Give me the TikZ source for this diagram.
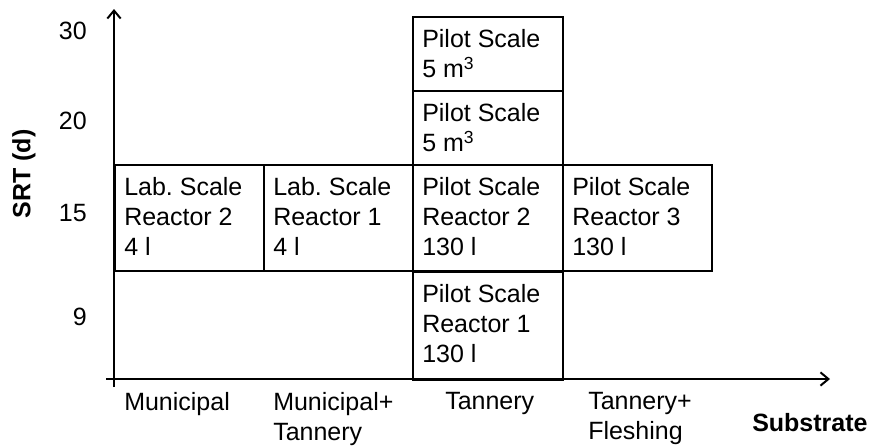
\documentclass[tikz,border=0pt]{standalone}
\usepackage{fontspec}
\setmainfont{Liberation Sans}
\usetikzlibrary{arrows.meta}
\frenchspacing
\begin{document}
\begin{tikzpicture}[x=0.75pt,y=-0.75pt,
  txt/.style={font=\fontsize{18.75}{22.5}\selectfont, inner sep=0pt},
  boxtxt/.style={txt, align=left, anchor=north west},
  cell/.style={draw, line width=1.3pt, inner sep=0pt, anchor=north west},
  axis/.style={line width=1.8pt, -{Straight Barb[length=6pt,width=10pt,line width=1.5pt]}},
  tick/.style={txt, anchor=east},
  xlab/.style={txt, align=left, anchor=north west}]
\useasboundingbox (0,0) rectangle (869,447);
% cells
\node[cell, minimum width=150*0.75pt, minimum height=74*0.75pt] (p5a) at (412,16) {};
\node[cell, minimum width=150*0.75pt, minimum height=74*0.75pt] (p5b) at (412,90) {};
\node[cell, minimum width=149*0.75pt, minimum height=106*0.75pt] (lab2) at (114,164) {};
\node[cell, minimum width=149*0.75pt, minimum height=106*0.75pt] (lab1) at (263,164) {};
\node[cell, minimum width=150*0.75pt, minimum height=106*0.75pt] (pr2) at (412,164) {};
\node[cell, minimum width=149*0.75pt, minimum height=106*0.75pt] (pr3) at (562,164) {};
\node[cell, minimum width=150*0.75pt, minimum height=108*0.75pt] (pr1) at (412,271) {};
% cell texts
\node[boxtxt] (t5a) at ([shift={(10,13)}]p5a.north west) {Pilot Scale\\5 m\textsuperscript{3}};
\node[boxtxt] (t5b) at ([shift={(10,13)}]p5b.north west) {Pilot Scale\\5 m\textsuperscript{3}};
\node[boxtxt] (tl2) at ([shift={(10,13)}]lab2.north west) {Lab. Scale\\Reactor 2\\4 l};
\node[boxtxt] (tl1) at ([shift={(10,13)}]lab1.north west) {Lab. Scale\\Reactor 1\\4 l};
\node[boxtxt] (tp2) at ([shift={(10,13)}]pr2.north west) {Pilot Scale\\Reactor 2\\130 l};
\node[boxtxt] (tp3) at ([shift={(10,13)}]pr3.north west) {Pilot Scale\\Reactor 3\\130 l};
\node[boxtxt] (tp1) at ([shift={(10,13)}]pr1.north west) {Pilot Scale\\Reactor 1\\130 l};
% axes
\coordinate (yo) at (114,387);
\coordinate (yt) at (114,9);
\coordinate (xo) at (106,379);
\coordinate (xt) at (830,379);
\draw[axis] (yo) -- (yt);
\draw[axis] (xo) -- (xt);
% ticks
\node[tick] (n30) at (87,31) {30};
\node[tick] (n20) at (87,121) {20};
\node[tick] (n15) at (87,213) {15};
\node[tick] (n9) at (87,317) {9};
\node[txt, font=\fontsize{18.75}{22.5}\selectfont\bfseries, rotate=90] (ylab) at (24,174) {SRT (d)};
% x labels
\node[xlab] (m) at (124,392) {Municipal};
\node[xlab] (mt) at (273,392) {Municipal+\\Tannery};
\node[xlab] (t) at (445,392) {Tannery};
\node[xlab] (tf) at (588,392) {Tannery+\\Fleshing};
\node[txt, font=\fontsize{18.75}{22.5}\selectfont\bfseries, anchor=west] (sub) at (752,423) {Substrate};
\end{tikzpicture}
\end{document}
